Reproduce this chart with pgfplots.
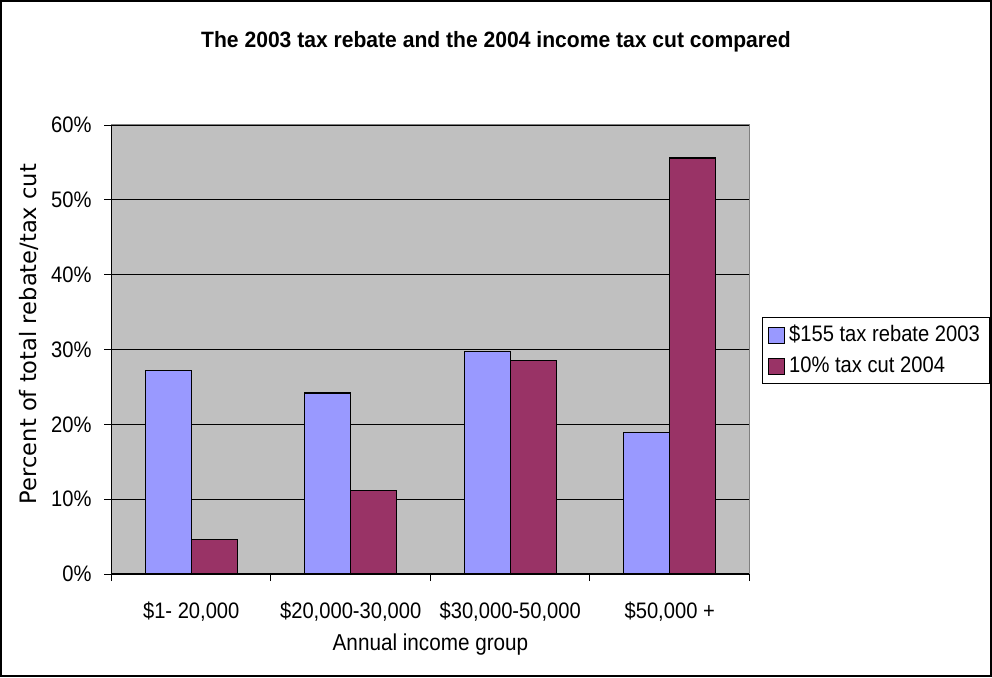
\documentclass[border=0pt]{standalone}
\usepackage{fontspec}
\setmainfont{Liberation Sans}[FakeStretch=0.9]
\newfontfamily\titlefont{Liberation Sans}[FakeStretch=0.95]
\newfontfamily\ylabfont{DejaVu Sans}
\usepackage{pgfplots}
\pgfplotsset{compat=1.18}
\definecolor{barblue}{HTML}{9999FF}
\definecolor{barmaroon}{HTML}{993366}
\definecolor{plotgray}{HTML}{C0C0C0}
\definecolor{bordergray}{HTML}{808080}
\begin{document}
\begin{tikzpicture}
\useasboundingbox (0,0) rectangle (496pt,338.5pt);
\draw[black, line width=1pt] (0.5pt,0.5pt) rectangle (495.5pt,338pt);
\node[font=\titlefont\bfseries\fontsize{11.1}{13}\selectfont] at (248pt,317.5pt) {The 2003 tax rebate and the 2004 income tax cut compared};
\node[rotate=90, font=\ylabfont\fontsize{11.3}{13}\selectfont] at (14.5pt,171.5pt) {Percent of total rebate/tax cut};
\node[font=\fontsize{11.5}{13}\selectfont] at (215.25pt,16pt) {Annual income group};
\begin{axis}[
  at={(55.75pt,51.5pt)}, anchor=south west,
  scale only axis, width=319pt, height=224.5pt,
  xmin=-0.5, xmax=3.5, ymin=0, ymax=60,
  axis background/.style={fill=plotgray, draw=bordergray, line width=0.6pt},
  axis x line*=bottom, axis y line*=left,
  axis line style={black, line width=0.6pt, -},
  tick align=outside,
  major tick length=3.5pt,
  every tick/.style={black, line width=0.5pt},
  ytick={0,10,20,30,40,50,60},
  yticklabels={0\%,10\%,20\%,30\%,40\%,50\%,60\%},
  ymajorgrids, grid style={black, line width=0.5pt},
  xtick={-0.5,0.5,1.5,2.5,3.5},
  xticklabels={},
  extra x ticks={0,1,2,3},
  extra x tick labels={\$1- 20{,}000,\$20{,}000-30{,}000,\$30{,}000-50{,}000,\$50{,}000 +},
  extra x tick style={major tick length=0pt, grid=none},
  tick label style={font=\fontsize{11.2}{13}\selectfont},
  yticklabel style={xshift=-3pt},
  xticklabel style={yshift=-10.5pt},
  legend style={at={(1.0193,0.5724)}, anchor=north west, draw=black, fill=white,
    font=\fontsize{11.2}{13}\selectfont, inner xsep=3pt, inner ysep=2pt, row sep=2pt},
  legend cell align=left,
  legend image code/.code={\draw[#1, draw=black, line width=0.5pt] (0pt,-4pt) rectangle (8pt,4pt);},
]
\addplot[ybar, bar width=0.2875, bar shift=-0.14375, fill=barblue, draw=black, line width=0.6pt]
  coordinates {(0,27.2) (1,24.2) (2,29.7) (3,18.9)};
\addlegendentry{\$155 tax rebate 2003}
\addplot[ybar, bar width=0.2875, bar shift=0.14375, fill=barmaroon, draw=black, line width=0.6pt]
  coordinates {(0,4.6) (1,11.2) (2,28.5) (3,55.6)};
\addlegendentry{10\% tax cut 2004}
\end{axis}
\end{tikzpicture}
\end{document}
